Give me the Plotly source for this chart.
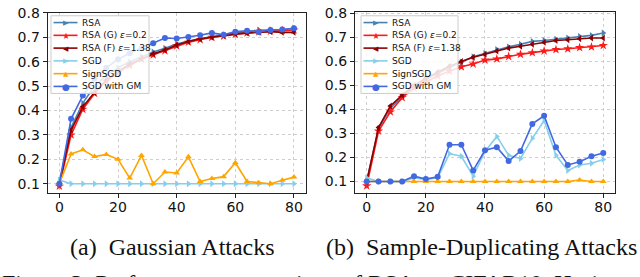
import plotly.graph_objects as go

# ---------------- data ----------------
epochs = [0, 4, 8, 12, 16, 20, 24, 28, 32, 36, 40, 44, 48, 52, 56, 60, 64, 68, 72, 76, 80]
x_ticks = [0, 20, 40, 60, 80]
y_ticks = [0.1, 0.2, 0.3, 0.4, 0.5, 0.6, 0.7, 0.8]
series_names = ["RSA", "RSA (G) <i>ε</i>=0.2", "RSA (F) <i>ε</i>=1.38", "SGD", "SignSGD", "SGD with GM"]

# (a) Gaussian attacks
a_rsa = [0.10, 0.33, 0.43, 0.50, 0.545, 0.575, 0.60, 0.62, 0.64, 0.655, 0.672, 0.685, 0.695, 0.703, 0.71, 0.718, 0.722, 0.73, 0.73, 0.73, 0.738]
a_rsa_g = [0.09, 0.30, 0.405, 0.47, 0.52, 0.555, 0.585, 0.61, 0.628, 0.645, 0.665, 0.68, 0.69, 0.70, 0.705, 0.712, 0.718, 0.722, 0.725, 0.728, 0.73]
a_rsa_f = [0.10, 0.32, 0.415, 0.475, 0.525, 0.56, 0.59, 0.612, 0.632, 0.648, 0.668, 0.683, 0.694, 0.70, 0.707, 0.714, 0.717, 0.72, 0.723, 0.72, 0.72]
a_sgd = [0.115, 0.10, 0.10, 0.10, 0.10, 0.10, 0.10, 0.10, 0.10, 0.10, 0.10, 0.10, 0.10, 0.10, 0.10, 0.10, 0.10, 0.10, 0.10, 0.10, 0.10]
a_signsgd = [0.10, 0.222, 0.239, 0.211, 0.22, 0.20, 0.123, 0.216, 0.10, 0.148, 0.144, 0.21, 0.109, 0.121, 0.129, 0.186, 0.109, 0.104, 0.10, 0.114, 0.127]
a_gm = [0.10, 0.366, 0.461, 0.53, 0.575, 0.61, 0.635, 0.655, 0.676, 0.697, 0.695, 0.701, 0.708, 0.718, 0.71, 0.723, 0.727, 0.722, 0.73, 0.732, 0.737]

# (b) Sample-duplicating attacks
b_rsa = [0.10, 0.32, 0.405, 0.455, 0.495, 0.525, 0.55, 0.575, 0.598, 0.62, 0.634, 0.65, 0.661, 0.672, 0.684, 0.688, 0.693, 0.698, 0.705, 0.709, 0.719]
b_rsa_g = [0.082, 0.31, 0.39, 0.45, 0.49, 0.515, 0.54, 0.56, 0.578, 0.59, 0.606, 0.611, 0.621, 0.63, 0.637, 0.644, 0.65, 0.653, 0.658, 0.661, 0.667]
b_rsa_f = [0.10, 0.325, 0.415, 0.46, 0.50, 0.53, 0.555, 0.58, 0.60, 0.618, 0.63, 0.644, 0.656, 0.664, 0.672, 0.68, 0.688, 0.691, 0.695, 0.698, 0.698]
b_sgd = [0.115, 0.10, 0.10, 0.10, 0.115, 0.108, 0.115, 0.216, 0.205, 0.122, 0.225, 0.288, 0.209, 0.196, 0.28, 0.354, 0.209, 0.146, 0.169, 0.176, 0.192]
b_signsgd = [0.10, 0.10, 0.10, 0.10, 0.10, 0.10, 0.10, 0.10, 0.10, 0.10, 0.10, 0.10, 0.10, 0.10, 0.10, 0.10, 0.10, 0.10, 0.106, 0.10, 0.10]
b_gm = [0.10, 0.10, 0.10, 0.10, 0.122, 0.11, 0.12, 0.253, 0.253, 0.146, 0.23, 0.243, 0.185, 0.227, 0.34, 0.374, 0.243, 0.169, 0.182, 0.205, 0.219]

captions = ["(a)\u2002Gaussian Attacks", "(b)\u2002Sample-Duplicating Attacks"]
next_line = "Figure 3: Performance comparison of RSA on CIFAR10. Horizontal axis"

# ---------------- styles ----------------
W, H = 640, 277
colors = ["#4682B4", "#FF1A1A", "#8B0000", "#87CEEB", "#FFA500", "#4169E1"]
symbols = ["triangle-right", "star", "triangle-left", "triangle-right", "triangle-up", "circle"]
msizes = [6, 7, 6, 6, 6, 6]
glyphs = ["\u25B6", "\u2605", "\u25C0", "\u25B6", "\u25B2", "\u25CF"]
glyph_sizes = [7, 9, 7, 7, 7, 9]

fig = go.Figure()

panels = [
    ([a_rsa, a_rsa_g, a_rsa_f, a_sgd, a_signsgd, a_gm], "x", "y"),
    ([b_rsa, b_rsa_g, b_rsa_f, b_sgd, b_signsgd, b_gm], "x2", "y2"),
]
for vals, xa, ya in panels:
    for i, v in enumerate(vals):
        fig.add_trace(go.Scatter(
            x=epochs, y=v, name=series_names[i], mode="lines+markers",
            xaxis=xa, yaxis=ya, showlegend=False, hoverinfo="skip",
            line=dict(color=colors[i], width=1.6),
            marker=dict(symbol=symbols[i], size=msizes[i], color=colors[i], line=dict(width=0)),
        ))

# ---------------- matplotlib-style legends (one per panel), drawn above the curves ----------------
legend_boxes = [(51, 149, 8, 88), (361, 458, 8, 88)]  # left, right, top, bottom (pixels)
row0, row_gap = 15.0, 13.15


def px(xp):
    return xp / W


def py(yp):
    return 1 - yp / H


for (l, r, t, b) in legend_boxes:
    fig.add_shape(type="rect", xref="paper", yref="paper", layer="above",
                  x0=px(l), x1=px(r), y0=py(b), y1=py(t), opacity=1,
                  fillcolor="rgba(255,255,255,0.85)", line=dict(color="#cccccc", width=1))
    h0, h1 = l + 2.5, l + 26.5
    for i, name in enumerate(series_names):
        yy = row0 + row_gap * i
        fig.add_shape(type="line", xref="paper", yref="paper", layer="above",
                      x0=px(h0), x1=px(h1), y0=py(yy), y1=py(yy),
                      line=dict(color=colors[i], width=1.6))
        fig.add_annotation(text=glyphs[i], xref="paper", yref="paper", x=px((h0 + h1) / 2), y=py(yy + 0.5),
                           xanchor="center", yanchor="middle", showarrow=False,
                           font=dict(family="DejaVu Sans", size=glyph_sizes[i], color=colors[i]))
        fig.add_annotation(text=name, xref="paper", yref="paper", x=px(h1 + 2.5), y=py(yy),
                           xanchor="left", yanchor="middle", showarrow=False,
                           font=dict(family="DejaVu Sans", size=9, color="#111"))

axis_common = dict(
    showline=True, mirror=True, linecolor="#222", linewidth=1,
    ticks="outside", ticklen=4, tickcolor="#222", tickwidth=1,
    showgrid=True, gridcolor="#cfcfcf", griddash="dot", gridwidth=1,
    zeroline=False, tickfont=dict(family="DejaVu Sans", size=14, color="#111"),
    ticklabeloverflow="allow",
)

fig.update_layout(
    width=W, height=H,
    margin=dict(l=0, r=0, t=0, b=0),
    paper_bgcolor="white", plot_bgcolor="white",
    showlegend=False,
    xaxis=dict(domain=[0.0744, 0.4777], range=[-4, 84], tickvals=x_ticks, anchor="y", ticklabelstandoff=-3, **axis_common),
    yaxis=dict(domain=[0.3105, 0.9819], range=[0.06, 0.80], tickvals=y_ticks, tickformat=".1f", anchor="x", **axis_common),
    xaxis2=dict(domain=[0.5545, 0.9611], range=[-4, 84], tickvals=x_ticks, anchor="y2", ticklabelstandoff=-3, **axis_common),
    yaxis2=dict(domain=[0.3105, 0.9856], range=[0.05, 0.807], tickvals=y_ticks, tickformat=".1f", anchor="x2", **axis_common),
)

fig.add_annotation(text=captions[0], xref="paper", yref="paper", x=172 / W, y=1 - 262 / H,
                   xanchor="center", yanchor="bottom", showarrow=False,
                   font=dict(family="Liberation Serif", size=24, color="#111"))
fig.add_annotation(text=captions[1], xref="paper", yref="paper", x=481.5 / W, y=1 - 262 / H,
                   xanchor="center", yanchor="bottom", showarrow=False,
                   font=dict(family="Liberation Serif", size=24, color="#111"))
fig.add_annotation(text=next_line, xref="paper", yref="paper", x=0, y=1 - 268 / H,
                   xanchor="left", yanchor="top", showarrow=False,
                   font=dict(family="Liberation Serif", size=24, color="#111"))

fig.write_html("out.html", config={"displayModeBar": False},
               post_script="document.body.style.margin='0';document.body.style.overflow='hidden';")
